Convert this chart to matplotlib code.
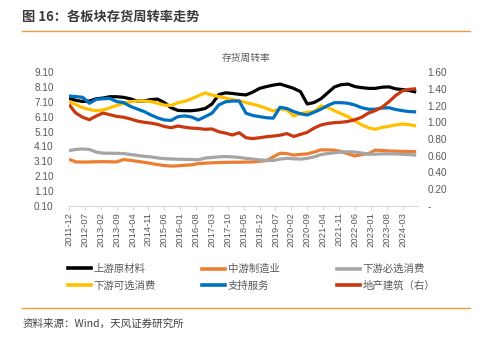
import numpy as np
import matplotlib
matplotlib.use("Agg")
import matplotlib.pyplot as plt
from matplotlib.lines import Line2D
from matplotlib.ticker import FuncFormatter

plt.rcParams['font.family'] = ['Liberation Sans', 'Noto Sans CJK SC', 'DejaVu Sans']
CJK = ['Noto Sans CJK SC', 'DejaVu Sans']

# Quarterly inventory turnover, 2011-12 .. 2024-09
upstream = [7.33, 7.20, 7.12, 7.15, 7.30, 7.35, 7.44, 7.44, 7.40, 7.30, 7.15, 7.15, 7.25,
            7.28, 7.05, 6.70, 6.52, 6.50, 6.50, 6.55, 6.65, 6.95, 7.58, 7.70, 7.66, 7.60,
            7.56, 7.75, 8.00, 8.12, 8.22, 8.29, 8.15, 8.00, 7.78, 6.95, 7.05, 7.30, 7.70,
            8.10, 8.25, 8.29, 8.12, 8.05, 8.00, 8.00, 8.08, 8.10, 7.97, 7.92, 7.85, 7.75]
midstream = [3.24, 3.06, 3.05, 3.06, 3.07, 3.08, 3.07, 3.06, 3.22, 3.17, 3.10, 3.04, 2.96,
             2.88, 2.82, 2.78, 2.80, 2.84, 2.86, 2.95, 2.98, 3.00, 3.02, 3.03, 3.04, 3.04,
             3.05, 3.06, 3.10, 3.15, 3.40, 3.64, 3.62, 3.52, 3.57, 3.60, 3.72, 3.87, 3.87,
             3.85, 3.75, 3.60, 3.46, 3.55, 3.62, 3.85, 3.83, 3.80, 3.78, 3.77, 3.76, 3.75]
staples = [3.82, 3.90, 3.93, 3.90, 3.72, 3.65, 3.64, 3.64, 3.62, 3.56, 3.50, 3.44, 3.40,
           3.33, 3.28, 3.26, 3.24, 3.23, 3.22, 3.20, 3.32, 3.36, 3.40, 3.42, 3.40, 3.36,
           3.30, 3.25, 3.20, 3.17, 3.16, 3.25, 3.30, 3.27, 3.25, 3.30, 3.40, 3.55, 3.62,
           3.68, 3.72, 3.75, 3.72, 3.66, 3.58, 3.58, 3.60, 3.60, 3.60, 3.57, 3.55, 3.52]
discretionary = [7.11, 6.92, 6.70, 6.58, 6.50, 6.55, 6.70, 6.85, 7.00, 7.10, 7.15, 7.15, 7.12,
                 7.00, 6.88, 6.85, 7.04, 7.13, 7.30, 7.50, 7.70, 7.55, 7.45, 7.35, 7.25, 7.17,
                 7.05, 6.93, 6.82, 6.65, 6.48, 6.62, 6.55, 6.15, 6.30, 6.40, 6.44, 6.82, 6.72,
                 6.50, 6.30, 6.10, 5.80, 5.55, 5.35, 5.25, 5.38, 5.45, 5.55, 5.60, 5.56, 5.48]
services = [7.49, 7.45, 7.40, 7.00, 7.27, 7.30, 7.33, 7.11, 7.05, 6.80, 6.62, 6.45, 6.22,
            6.02, 5.88, 5.85, 6.10, 6.15, 6.08, 5.88, 6.10, 6.33, 6.89, 7.10, 7.15, 7.15,
            6.33, 6.18, 6.10, 6.03, 6.00, 6.73, 6.65, 6.44, 6.30, 6.21, 6.40, 6.60, 6.85,
            7.04, 7.04, 7.00, 6.88, 6.70, 6.60, 6.60, 6.68, 6.70, 6.58, 6.50, 6.44, 6.42]
property_construction = [1.21, 1.11, 1.06, 1.03, 1.075, 1.11, 1.09, 1.07, 1.06, 1.04, 1.015,
                         1.00, 0.99, 0.975, 0.95, 0.935, 0.955, 0.94, 0.93, 0.925, 0.916,
                         0.92, 0.887, 0.87, 0.848, 0.875, 0.815, 0.805, 0.815, 0.827, 0.835,
                         0.845, 0.865, 0.83, 0.855, 0.88, 0.93, 0.967, 0.985, 0.995, 1.00,
                         1.01, 1.03, 1.06, 1.11, 1.14, 1.18, 1.245, 1.32, 1.376, 1.393, 1.40]

tick_labels = ['2011-12', '2012-07', '2013-02', '2013-09', '2014-04', '2014-11', '2015-06',
               '2016-01', '2016-08', '2017-03', '2017-10', '2018-05', '2018-12', '2019-07',
               '2020-02', '2020-09', '2021-04', '2021-11', '2022-06', '2023-01', '2023-08',
               '2024-03']

series_names = ['上游原材料', '中游制造业', '下游必选消费', '下游可选消费', '支持服务', '地产建筑（右）']
colors = ['#000000', '#ED7D31', '#A5A5A5', '#FFC000', '#0070C0', '#C9380F']

months = np.arange(len(upstream)) * 3          # month offset from 2011-12
tick_pos = np.arange(len(tick_labels)) * 7     # a label every 7 months

W, H = 482, 342
fig = plt.figure(figsize=(W / 100, H / 100), dpi=100)
ax = fig.add_axes([69 / W, 1 - 206 / H, (418 - 69) / W, (206 - 72) / H])
ax2 = ax.twinx()

lw = 2.3
left_series = [upstream, midstream, staples, discretionary, services]
for vals, c in zip(left_series, colors[:5]):
    ax.plot(months, vals, color=c, lw=lw, solid_joinstyle='round', solid_capstyle='butt')
ax2.plot(months, property_construction, color=colors[5], lw=lw,
         solid_joinstyle='round', solid_capstyle='butt')

tick_color = '#595959'
ax.set_xlim(0, 153.8)
ax.set_ylim(0.10, 9.10)
ax.set_yticks(np.arange(0.10, 9.11, 1.0))
ax.yaxis.set_major_formatter(FuncFormatter(lambda v, p: f'{v:.2f}'))
ax2.set_ylim(0, 1.6)
ax2.set_yticks(np.arange(0, 1.61, 0.2))
ax2.yaxis.set_major_formatter(FuncFormatter(lambda v, p: '-' if abs(v) < 1e-9 else f'{v:.2f}'))

ax.set_xticks(tick_pos)
ax.set_xticklabels(tick_labels, rotation=90)

for a in (ax, ax2):
    for s in a.spines.values():
        s.set_visible(False)
ax.spines['bottom'].set_visible(True)
ax.spines['bottom'].set_color('#D9D9D9')
ax.spines['bottom'].set_linewidth(0.8)

ax.tick_params(axis='x', colors='#D9D9D9', labelcolor=tick_color, labelsize=6.8,
               length=3, width=0.8, direction='out', pad=1.5)
ax.tick_params(axis='y', length=0, labelcolor=tick_color, labelsize=7.2, pad=11)
ax2.tick_params(axis='y', length=0, labelcolor=tick_color, labelsize=7.2, pad=7)

# Chart title
fig.text((69 + 418) / 2 / W + 0.005, 1 - 58 / H, '存货周转率', family=CJK, fontsize=7,
         color='#595959', ha='center', va='center')

# Heading and source lines
fig.text(22 / W, 1 - 17 / H, '图 16：各板块存货周转率走势', family=CJK, fontsize=9.5,
         fontweight='bold', color='#3A3A3A', ha='left', va='center')
fig.add_artist(Line2D([22 / W, 470 / W], [1 - 31 / H, 1 - 31 / H], color='#F39A3C', lw=1.0))
fig.add_artist(Line2D([22 / W, 470 / W], [1 - 308 / H, 1 - 308 / H], color='#F39A3C', lw=1.0))
fig.text(23 / W, 1 - 324 / H, '资料来源：Wind，天风证券研究所', family=CJK, fontsize=7.6,
         color='#404040', ha='left', va='center')

# Legend in three columns
handles = [Line2D([], [], color=c, lw=2.6) for c in colors]
col_order = [(0, 3), (1, 4), (2, 5)]
col_x = [68, 202, 337]
for (i, j), x in zip(col_order, col_x):
    fig.legend([handles[i], handles[j]], [series_names[i], series_names[j]],
               loc='upper left', bbox_to_anchor=(x / W, 1 - 264 / H),
               frameon=False, prop={'family': CJK, 'size': 7.5},
               labelcolor='#595959', handlelength=2.2, handletextpad=0.25,
               labelspacing=0.62, borderpad=0, borderaxespad=0)

fig.savefig('out.png', dpi=100)
